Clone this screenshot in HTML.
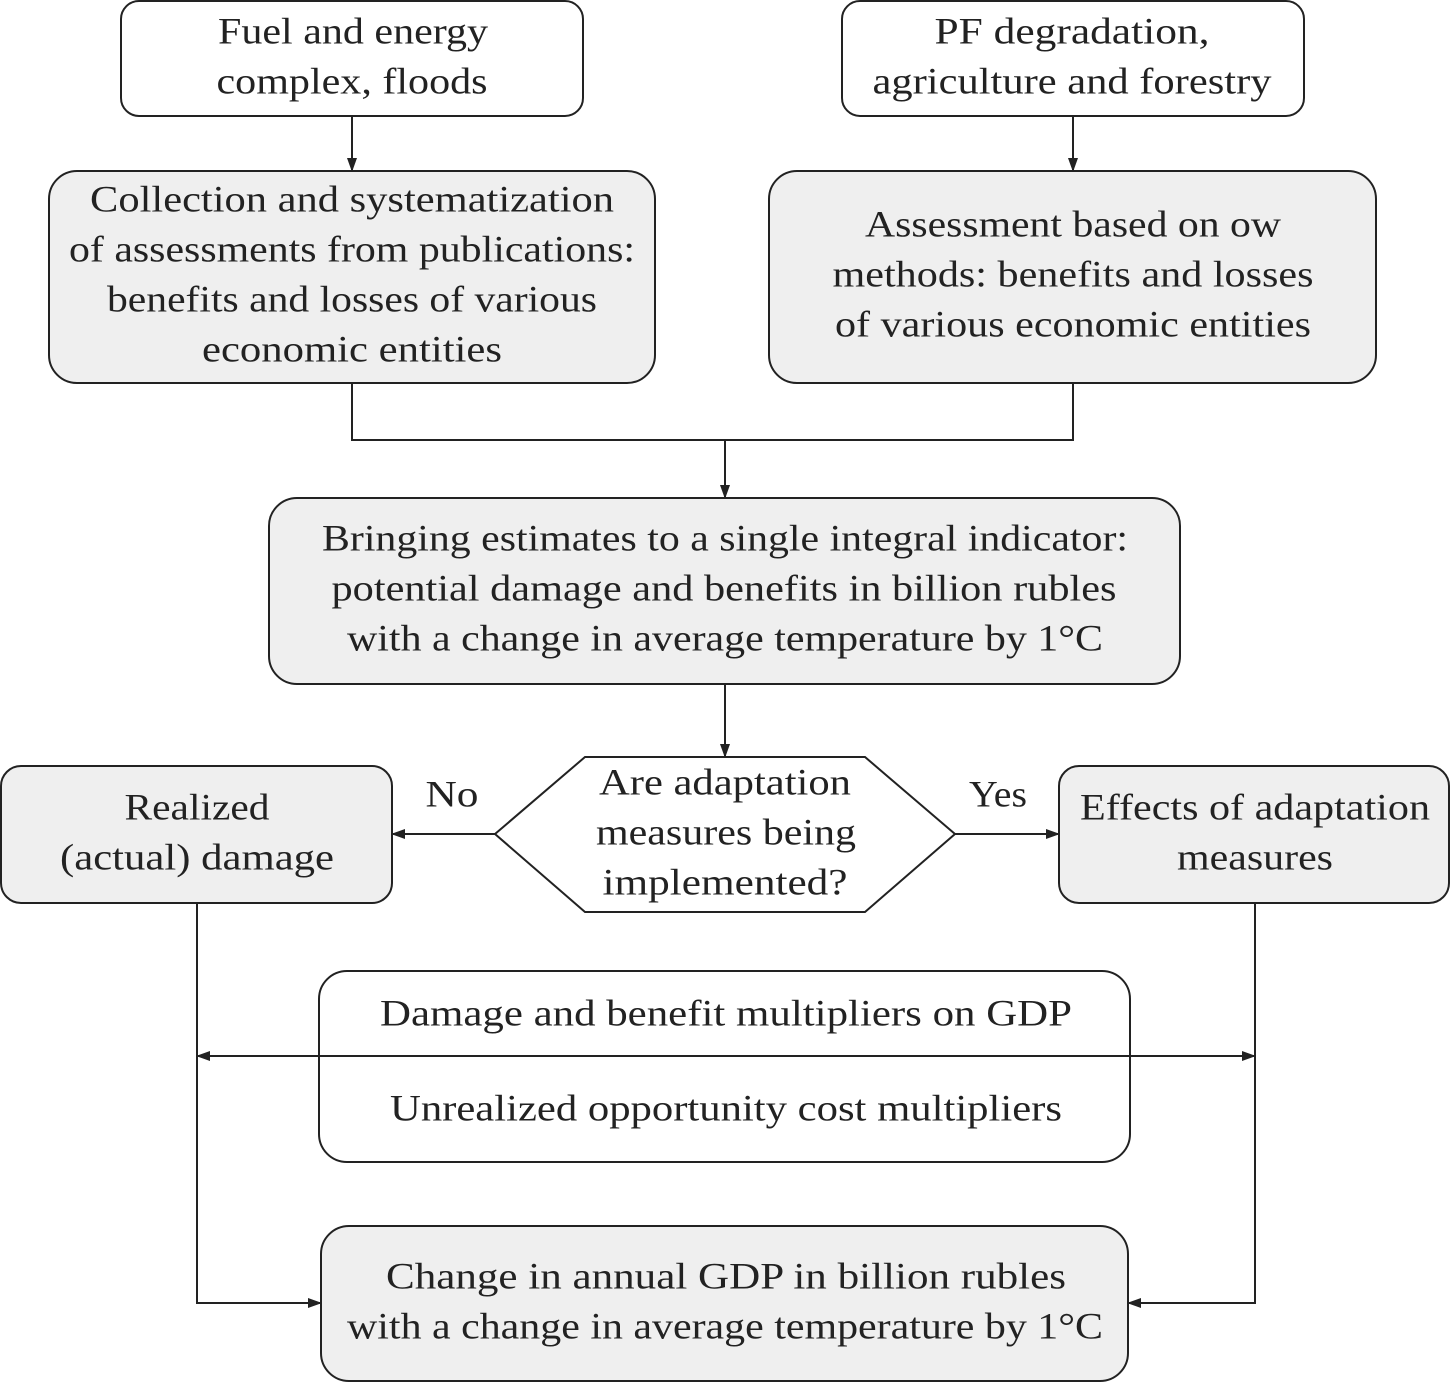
<!DOCTYPE html>
<html><head><meta charset="utf-8"><style>
html,body{margin:0;padding:0;background:#fff;}
svg{display:block;}
text{font-family:"Liberation Serif",serif;font-size:37px;fill:#222;text-anchor:middle;dominant-baseline:central;}
</style></head><body>
<svg width="1451" height="1383" viewBox="0 0 1451 1383" xmlns="http://www.w3.org/2000/svg">
<defs><marker id="a" markerWidth="14" markerHeight="10" refX="13" refY="5" orient="auto" markerUnits="userSpaceOnUse"><path d="M0,0 L14,5 L0,10 Z" fill="#222"/></marker>
<marker id="s" markerWidth="14" markerHeight="10" refX="1" refY="5" orient="auto" markerUnits="userSpaceOnUse"><path d="M14,0 L0,5 L14,10 Z" fill="#222"/></marker></defs>
<g stroke="#222" stroke-width="2">
<rect x="121" y="1" width="462" height="115" rx="18" fill="#fff"/>
<rect x="842" y="1" width="462" height="115" rx="18" fill="#fff"/>
<rect x="49" y="171" width="606" height="212" rx="28" fill="#efefef"/>
<rect x="769" y="171" width="607" height="212" rx="28" fill="#efefef"/>
<rect x="269" y="498" width="911" height="186" rx="28" fill="#efefef"/>
<polygon points="495,834 585,757 865,757 955,834 865,912 585,912" fill="#fff"/>
<rect x="1" y="766" width="391" height="137" rx="20" fill="#efefef"/>
<rect x="1059" y="766" width="390" height="137" rx="20" fill="#efefef"/>
<rect x="319" y="971" width="811" height="191" rx="28" fill="#fff"/>
<rect x="321" y="1226" width="807" height="155" rx="28" fill="#efefef"/>
<g fill="none">
<line x1="352" y1="116" x2="352" y2="171" marker-end="url(#a)"/>
<line x1="1073" y1="116" x2="1073" y2="171" marker-end="url(#a)"/>
<polyline points="352,383 352,440 1073,440 1073,383"/>
<line x1="725" y1="440" x2="725" y2="498" marker-end="url(#a)"/>
<line x1="725" y1="684" x2="725" y2="757" marker-end="url(#a)"/>
<line x1="495" y1="834" x2="392" y2="834" marker-end="url(#a)"/>
<line x1="955" y1="834" x2="1059" y2="834" marker-end="url(#a)"/>
<line x1="197" y1="1056" x2="1255" y2="1056" marker-start="url(#s)" marker-end="url(#a)"/>
<polyline points="197,903 197,1303 321,1303" marker-end="url(#a)"/>
<polyline points="1255,903 1255,1303 1128,1303" marker-end="url(#a)"/>
</g></g>
<g lengthAdjust="spacingAndGlyphs">
<text x="353" y="32" textLength="270" lengthAdjust="spacingAndGlyphs">Fuel and energy</text><text x="352" y="82" textLength="271" lengthAdjust="spacingAndGlyphs">complex, floods</text>
<text x="1072" y="32" textLength="275" lengthAdjust="spacingAndGlyphs">PF degradation,</text><text x="1072" y="82" textLength="399" lengthAdjust="spacingAndGlyphs">agriculture and forestry</text>
<text x="352" y="200" textLength="524" lengthAdjust="spacingAndGlyphs">Collection and systematization</text><text x="352" y="250" textLength="566" lengthAdjust="spacingAndGlyphs">of assessments from publications:</text><text x="352" y="300" textLength="490" lengthAdjust="spacingAndGlyphs">benefits and losses of various</text><text x="352" y="350" textLength="300" lengthAdjust="spacingAndGlyphs">economic entities</text>
<text x="1073" y="225" textLength="416" lengthAdjust="spacingAndGlyphs">Assessment based on ow</text><text x="1073" y="275" textLength="481" lengthAdjust="spacingAndGlyphs">methods: benefits and losses</text><text x="1073" y="325" textLength="476" lengthAdjust="spacingAndGlyphs">of various economic entities</text>
<text x="725" y="539" textLength="806" lengthAdjust="spacingAndGlyphs">Bringing estimates to a single integral indicator:</text><text x="724" y="589" textLength="785" lengthAdjust="spacingAndGlyphs">potential damage and benefits in billion rubles</text><text x="725" y="639" textLength="756" lengthAdjust="spacingAndGlyphs">with a change in average temperature by 1°C</text>
<text x="725" y="783" textLength="252" lengthAdjust="spacingAndGlyphs">Are adaptation</text><text x="726" y="833" textLength="260" lengthAdjust="spacingAndGlyphs">measures being</text><text x="725" y="883" textLength="245" lengthAdjust="spacingAndGlyphs">implemented?</text>
<text x="197" y="808" textLength="145" lengthAdjust="spacingAndGlyphs">Realized</text><text x="197" y="858" textLength="274" lengthAdjust="spacingAndGlyphs">(actual) damage</text>
<text x="1255" y="808" textLength="350" lengthAdjust="spacingAndGlyphs">Effects of adaptation</text><text x="1255" y="858" textLength="156" lengthAdjust="spacingAndGlyphs">measures</text>
<text x="452" y="795" textLength="53" lengthAdjust="spacingAndGlyphs">No</text><text x="998" y="795" textLength="58" lengthAdjust="spacingAndGlyphs">Yes</text>
<text x="726" y="1014" textLength="692" lengthAdjust="spacingAndGlyphs">Damage and benefit multipliers on GDP</text>
<text x="726" y="1109" textLength="672" lengthAdjust="spacingAndGlyphs">Unrealized opportunity cost multipliers</text>
<text x="726" y="1277" textLength="680" lengthAdjust="spacingAndGlyphs">Change in annual GDP in billion rubles</text><text x="725" y="1327" textLength="756" lengthAdjust="spacingAndGlyphs">with a change in average temperature by 1°C</text>
</g>
</svg>
</body></html>
